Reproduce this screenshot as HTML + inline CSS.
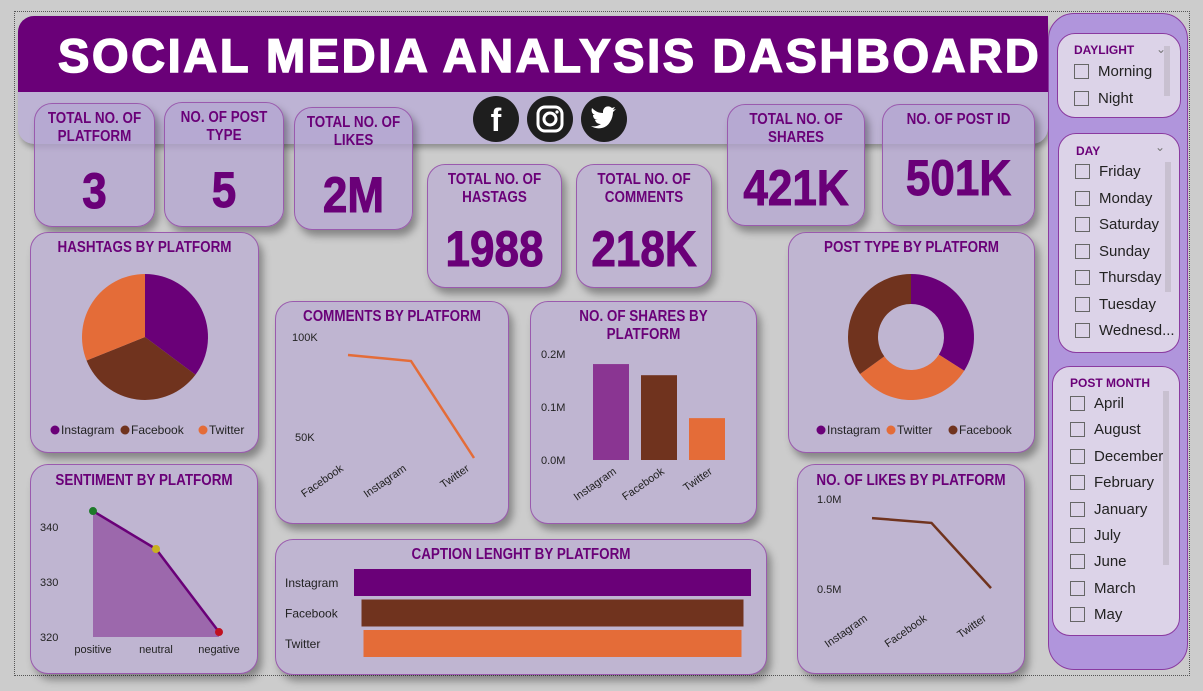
<!DOCTYPE html>
<html><head><meta charset="utf-8">
<style>
*{box-sizing:border-box;margin:0;padding:0}
body{width:1203px;height:691px;background:#cccccc;position:relative;overflow:hidden;font-family:"Liberation Sans",sans-serif}
.abs{position:absolute}
.card{position:absolute;background:#bfb5d1;border:1.5px solid #9a5aae;border-radius:18px;box-shadow:4px 6px 8px rgba(0,0,0,0.35)}
.lbl{position:absolute;left:-20px;right:-20px;text-align:center;color:#6a0078;font-family:"Liberation Sans",sans-serif;font-weight:bold;font-size:16px;line-height:18px;transform:scaleX(0.84);transform-origin:center}
.kpi{position:absolute;left:-30px;right:-30px;text-align:center;color:#6a0078;font-family:"Liberation Sans",sans-serif;font-weight:bold;font-size:50px;transform:scaleX(0.88);transform-origin:center;-webkit-text-stroke:1px #6a0078}
.slicer{position:absolute;background:#dcd3e8;border:1.5px solid #8a3aa0;border-radius:18px}
.sh{position:absolute;color:#6a0078;font-weight:bold;font-size:12px}
.item{position:absolute;font-size:15px;color:#222;display:flex;align-items:center}
.item span.box{width:15px;height:15px;border:1px solid #666;margin-right:9px;display:inline-block}
svg text{font-family:"Liberation Sans",sans-serif}
</style></head><body>
<div class="abs" style="left:14px;top:11px;width:1176px;height:665px;border:1px dotted #555"></div>

<div class="abs" style="left:18px;top:16px;width:1030px;height:128px;background:#bdb3d4;border-radius:16px;box-shadow:2px 4px 6px rgba(0,0,0,0.3)"></div>
<div class="abs" style="left:18px;top:16px;width:1030px;height:76px;background:#6a0078;border-radius:16px 0 0 0"></div>
<div class="abs" style="left:58px;top:28px;width:990px;white-space:nowrap;color:#fff;font-weight:900;font-size:47px;letter-spacing:2.6px;line-height:56px;-webkit-text-stroke:1.5px #fff">SOCIAL MEDIA ANALYSIS DASHBOARD</div>

<svg class="abs" style="left:470px;top:95px" width="160" height="50">
 <g><circle cx="26" cy="24" r="23" fill="#1e1e1e"/><text x="26" y="36" text-anchor="middle" fill="#fff" font-size="32" font-weight="bold">f</text></g>
 <g><circle cx="80" cy="24" r="23" fill="#1e1e1e"/><rect x="68" y="12" width="24" height="24" rx="7" fill="none" stroke="#fff" stroke-width="3"/><circle cx="80" cy="24" r="6" fill="none" stroke="#fff" stroke-width="3"/><circle cx="87" cy="17" r="1.6" fill="#fff"/></g>
 <g><circle cx="134" cy="24" r="23" fill="#1e1e1e"/><path d="M121 31c6 4 15 3 19-4 2-3 3-7 3-10l3-3-3 1 2-3-3 1c-3-3-8-2-9 3v2c-5 0-8-2-11-5-1 3 0 6 3 7h-2c0 3 2 5 5 5h-3c1 3 3 4 6 4-3 2-6 3-10 2z" fill="#fff"/></g>
</svg>

<div class="card" style="left:34px;top:103px;width:121px;height:124px;background:rgba(180,165,210,0.75)"><div class="lbl" style="top:6px">TOTAL NO. OF<br>PLATFORM</div><div class="kpi" style="top:58px">3</div></div>
<div class="card" style="left:164px;top:102px;width:120px;height:125px;background:rgba(180,165,210,0.75)"><div class="lbl" style="top:6px">NO. OF POST<br>TYPE</div><div class="kpi" style="top:58px">5</div></div>
<div class="card" style="left:294px;top:107px;width:119px;height:123px;background:rgba(180,165,210,0.75)"><div class="lbl" style="top:6px">TOTAL NO. OF<br>LIKES</div><div class="kpi" style="top:58px">2M</div></div>
<div class="card" style="left:427px;top:164px;width:135px;height:124px"><div class="lbl" style="top:6px">TOTAL NO. OF<br>HASTAGS</div><div class="kpi" style="top:55px">1988</div></div>
<div class="card" style="left:576px;top:164px;width:136px;height:124px"><div class="lbl" style="top:6px">TOTAL NO. OF<br>COMMENTS</div><div class="kpi" style="top:55px">218K</div></div>
<div class="card" style="left:727px;top:104px;width:138px;height:122px;background:rgba(180,165,210,0.75)"><div class="lbl" style="top:6px">TOTAL NO. OF<br>SHARES</div><div class="kpi" style="top:54px">421K</div></div>
<div class="card" style="left:882px;top:104px;width:153px;height:122px;background:rgba(180,165,210,0.75)"><div class="lbl" style="top:6px">NO. OF POST ID</div><div class="kpi" style="top:44px">501K</div></div>

<div class="card" style="left:30px;top:232px;width:229px;height:221px"><div class="lbl" style="top:6px">HASHTAGS BY PLATFORM</div></div>
<div class="card" style="left:275px;top:301px;width:234px;height:223px"><div class="lbl" style="top:6px">COMMENTS BY PLATFORM</div></div>
<div class="card" style="left:530px;top:301px;width:227px;height:223px"><div class="lbl" style="top:6px">NO. OF SHARES BY<br>PLATFORM</div></div>
<div class="card" style="left:788px;top:232px;width:247px;height:221px"><div class="lbl" style="top:6px">POST TYPE BY PLATFORM</div></div>
<div class="card" style="left:30px;top:464px;width:228px;height:210px"><div class="lbl" style="top:7px">SENTIMENT BY PLATFORM</div></div>
<div class="card" style="left:275px;top:539px;width:492px;height:136px"><div class="lbl" style="top:6px">CAPTION LENGHT BY PLATFORM</div></div>
<div class="card" style="left:797px;top:464px;width:228px;height:210px"><div class="lbl" style="top:7px">NO. OF LIKES BY PLATFORM</div></div>

<svg id="charts" class="abs" style="left:0;top:0" width="1203" height="691"></svg>

<div class="abs" style="left:1048px;top:13px;width:140px;height:657px;background:#b095dc;border:1.5px solid #8a3aa0;border-radius:26px"></div>
<div class="slicer" style="left:1057px;top:33px;width:124px;height:85px">
 <div class="sh" style="left:16px;top:9px">DAYLIGHT</div><div class="abs" style="left:98px;top:8px;color:#777;font-size:12px">&#8964;</div>
 <div class="abs" style="left:106px;top:12px;width:6px;height:50px;background:#c8c0d0"></div>
</div>
<div class="slicer" style="left:1058px;top:133px;width:122px;height:220px">
 <div class="sh" style="left:17px;top:10px">DAY</div><div class="abs" style="left:96px;top:6px;color:#777;font-size:12px">&#8964;</div>
 <div class="abs" style="left:106px;top:28px;width:6px;height:130px;background:#c8c0d0"></div>
</div>
<div class="slicer" style="left:1052px;top:366px;width:128px;height:270px">
 <div class="sh" style="left:17px;top:9px">POST MONTH</div>
 <div class="abs" style="left:110px;top:24px;width:6px;height:174px;background:#c8c0d0"></div>
</div>
<div id="items"></div>

<script>
const platformsHash = ["Instagram","Facebook","Twitter"];
const hashtagValues = [700, 670, 618];
const platformsPost = ["Instagram","Twitter","Facebook"];
const postTypeValues = [34, 31, 35];
const commentCats = ["Facebook","Instagram","Twitter"];
const commentValues = [91000, 88000, 39500];
const commentTicks = [100000, 50000];
const commentTickLabels = ["100K","50K"];
const shareCats = ["Instagram","Facebook","Twitter"];
const shareValues = [0.181, 0.160, 0.079];
const shareTicks = [0.2, 0.1, 0.0];
const shareTickLabels = ["0.2M","0.1M","0.0M"];
const likeCats = ["Instagram","Facebook","Twitter"];
const likeValues = [0.894, 0.867, 0.505];
const likeTicks = [1.0, 0.5];
const likeTickLabels = ["1.0M","0.5M"];
const sentimentCats = ["positive","neutral","negative"];
const sentimentValues = [342.9, 336.0, 320.9];
const sentimentTicks = [340, 330, 320];
const captionCats = ["Instagram","Facebook","Twitter"];
const captionValues = [397, 382, 378];
const daylightItems = ["Morning","Night"];
const dayItems = ["Friday","Monday","Saturday","Sunday","Thursday","Tuesday","Wednesd..."];
const monthItems = ["April","August","December","February","January","July","June","March","May"];

const colors = {Instagram:"#6a0078",Facebook:"#70331e",Twitter:"#e46c38"};
const NS="http://www.w3.org/2000/svg";
const svg=document.getElementById("charts");
function mk(tag,attrs,parent){const e=document.createElementNS(NS,tag);for(const k in attrs)e.setAttribute(k,attrs[k]);(parent||svg).appendChild(e);return e;}
function txt(x,y,s,attrs){const t=mk("text",Object.assign({x:x,y:y,"font-size":11,fill:"#222"},attrs||{}));t.textContent=s;return t;}

function arcPath(cx,cy,r,ri,a0,a1){
  const p=(a,rr)=>[cx+rr*Math.sin(a),cy-rr*Math.cos(a)];
  const large=(a1-a0)>Math.PI?1:0;
  const [x0,y0]=p(a0,r),[x1,y1]=p(a1,r);
  if(ri===0) return `M${cx},${cy}L${x0},${y0}A${r},${r} 0 ${large} 1 ${x1},${y1}Z`;
  const [x2,y2]=p(a1,ri),[x3,y3]=p(a0,ri);
  return `M${x0},${y0}A${r},${r} 0 ${large} 1 ${x1},${y1}L${x2},${y2}A${ri},${ri} 0 ${large} 0 ${x3},${y3}Z`;
}
function drawPie(cats,vals,cx,cy,r,ri,name){
  const tot=vals.reduce((a,b)=>a+b,0);let a=0;
  cats.forEach((c,i)=>{const a1=a+vals[i]/tot*2*Math.PI;
    const s=mk("path",{d:arcPath(cx,cy,r,ri,a,a1),fill:colors[c]});
    
    
    a=a1;});
}
drawPie(platformsHash,hashtagValues,145,337,63,0,"hashtags");
drawPie(platformsPost,postTypeValues,911,337,63,33,"post-type");
function legend(cats,x,y,widths,name){let cx=x;cats.forEach((c,i)=>{
  const g=mk("g",{});
  
  
  mk("circle",{cx:cx,cy:y-4,r:4.5,fill:colors[c]},g);
  const t=mk("text",{x:cx+6,y:y,"font-size":12,fill:"#222"},g);t.textContent=c;cx+=widths[i];});}
legend(platformsHash,55,434,[70,78,60],"hashtags");
legend(platformsPost,821,434,[70,62,60],"post-type");

const cY=v=>337+(100000-v)/50000*100;
const cX=i=>348+i*63;
commentTicks.forEach((t,i)=>txt(292+(i?3:0),cY(t)+4,commentTickLabels[i]));
mk("polyline",{points:commentValues.map((v,i)=>cX(i)+","+cY(v)).join(" "),fill:"none",stroke:"#e46c38","stroke-width":2.5});
commentCats.forEach((c,i)=>txt(cX(i)-4,470,c,{transform:`rotate(-35 ${cX(i)-4} 470)`,"text-anchor":"end"}));

const sY=v=>460-v/0.2*106;
const sX=i=>593+i*48;
shareTicks.forEach((t,i)=>txt(541,sY(t)+4,shareTickLabels[i]));
shareCats.forEach((c,i)=>{
  const r=mk("rect",{x:sX(i),y:sY(shareValues[i]),width:36,height:sY(0)-sY(shareValues[i]),fill:c==="Instagram"?"#8a3592":colors[c]});
  
  
  txt(sX(i)+24,473,c,{transform:`rotate(-35 ${sX(i)+24} 473)`,"text-anchor":"end"});
});

const lY=v=>499+(1.0-v)/0.5*90;
const lX=i=>872+i*59.5;
likeTicks.forEach((t,i)=>txt(817,lY(t)+4,likeTickLabels[i]));
mk("polyline",{points:likeValues.map((v,i)=>lX(i)+","+lY(v)).join(" "),fill:"none",stroke:"#70331e","stroke-width":2.5});
likeCats.forEach((c,i)=>txt(lX(i)-4,620,c,{transform:`rotate(-35 ${lX(i)-4} 620)`,"text-anchor":"end"}));

const seY=v=>637-(v-320)*5.5;
const seX=i=>93+i*63;
sentimentTicks.forEach(t=>txt(40,seY(t)+4,String(t)));
const pts=sentimentValues.map((v,i)=>seX(i)+","+seY(v));
mk("polygon",{points:seX(0)+","+seY(320)+" "+pts.join(" ")+" "+seX(2)+","+seY(320),fill:"#9c68ac"});
mk("polyline",{points:pts.join(" "),fill:"none",stroke:"#6a0078","stroke-width":2.5});
const dotCols=["#1e7a2a","#c8b020","#c01020"];
sentimentValues.forEach((v,i)=>{const d=mk("circle",{cx:seX(i),cy:seY(v),r:4,fill:dotCols[i]});
  
  
  txt(seX(i),653,sentimentCats[i],{"text-anchor":"middle"});});

const capCenter=552.5, capScale=1;
captionCats.forEach((c,i)=>{
  const w=captionValues[i]*capScale,y=569+i*30.5;
  const r=mk("rect",{x:capCenter-w/2,y:y,width:w,height:27,fill:colors[c]});
  
  
  txt(285,y+18,c,{"font-size":12});
});

const items=document.getElementById("items");
function addItems(list,x,y0,step,name){list.forEach((s,i)=>{
  const d=document.createElement("div");d.className="item";
  d.style.left=x+"px";d.style.top=(y0+i*step)+"px";
  d.innerHTML='<span class="box"></span>'+s;
  
  
  items.appendChild(d);});}
addItems(daylightItems,1074,63,27,"daylight");
addItems(dayItems,1075,163,26.5,"day");
addItems(monthItems,1070,395,26.4,"month");
</script>
</body></html>
